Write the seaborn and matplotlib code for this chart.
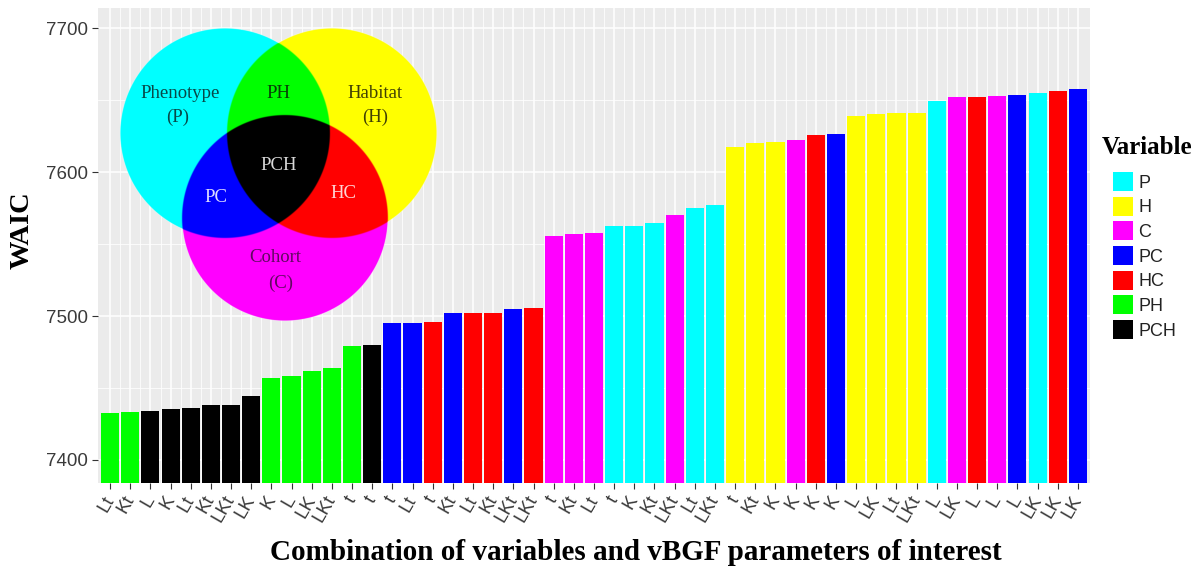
import numpy as np
import pandas as pd
import matplotlib
matplotlib.use("Agg")
import matplotlib.pyplot as plt
import seaborn as sns
from matplotlib.patches import Patch

# ---------------- data ----------------
params = ["Lt", "Kt", "L", "K", "Lt", "Kt", "LKt", "LK", "K", "L", "LK", "LKt", "t", "t",
          "t", "Lt", "t", "Kt", "Lt", "Kt", "LKt", "LKt", "t", "Kt", "Lt", "t", "K", "Kt",
          "LKt", "Lt", "LKt", "t", "Kt", "K", "K", "K", "K", "L", "LK", "Lt", "LKt", "L",
          "LK", "L", "L", "L", "LK", "LK", "LK"]
variables = ["PH", "PH", "PCH", "PCH", "PCH", "PCH", "PCH", "PCH", "PH", "PH", "PH", "PH", "PH", "PCH",
             "PC", "PC", "HC", "PC", "HC", "HC", "PC", "HC", "C", "C", "C", "P", "P", "P",
             "C", "P", "P", "H", "H", "H", "C", "HC", "PC", "H", "H", "H", "H", "P",
             "C", "HC", "C", "PC", "P", "HC", "PC"]
waic = [7432.6, 7433.0, 7434.0, 7435.2, 7435.9, 7438.2, 7438.4, 7444.4, 7457.0, 7458.4,
        7461.6, 7463.7, 7479.3, 7479.9, 7494.9, 7495.0, 7496.1, 7502.3, 7502.0, 7502.4,
        7504.6, 7505.3, 7555.6, 7556.9, 7557.4, 7562.5, 7562.6, 7564.8, 7570.1, 7574.8,
        7577.1, 7617.6, 7619.9, 7621.0, 7622.2, 7625.7, 7626.2, 7638.9, 7640.7, 7641.2,
        7641.3, 7649.5, 7652.3, 7652.4, 7652.8, 7653.5, 7654.6, 7656.5, 7657.4]
var_order = ["P", "H", "C", "PC", "HC", "PH", "PCH"]
var_colors = ["#00FFFF", "#FFFF00", "#FF00FF", "#0000FF", "#FF0000", "#00FF00", "#000000"]
y_ticks = [7400, 7500, 7600, 7700]
y_minor = [7450, 7550, 7650]

# ---------------- figure ----------------
W, H = 1203, 574
fig = plt.figure(figsize=(W / 100, H / 100), dpi=100)
fig.patch.set_facecolor("white")
ax = fig.add_axes([98 / W, 1 - 483 / H, (1090 - 98) / W, (483 - 8) / H])
ax.set_facecolor("#EBEBEB")

df = pd.DataFrame({"pos": np.arange(len(waic)), "WAIC": waic, "Variable": variables})
sns.barplot(data=df, x="pos", y="WAIC", hue="Variable", hue_order=var_order,
            palette=dict(zip(var_order, var_colors)), dodge=False, width=0.9,
            saturation=1, legend=False, ax=ax, linewidth=0, zorder=2)

n = len(waic)
ax.set_xlim(-0.6, n - 1 + 0.6)
ax.set_ylim(7384, 7714)
ax.set_yticks(y_ticks)
ax.set_yticks(y_minor, minor=True)
ax.set_xticks(np.arange(n))
ax.set_xticks(np.arange(n - 1) + 0.5, minor=True)
ax.set_xticklabels(params, rotation=60, ha="right", va="center", rotation_mode="anchor")
ax.set_axisbelow(True)
ax.grid(which="major", color="white", linewidth=1.1, zorder=0)
ax.grid(which="minor", color="white", linewidth=0.55, zorder=0)
for s in ax.spines.values():
    s.set_visible(False)
ax.tick_params(axis="both", which="major", length=4, width=0.8, color="#333333",
               labelcolor="#3A3A3A", labelsize=13.5)
ax.tick_params(axis="x", which="major", pad=6)
ax.tick_params(which="minor", length=0)
for lab in ax.get_yticklabels() + ax.get_xticklabels():
    lab.set_family(["Liberation Sans", "DejaVu Sans"])
ax.set_xlabel("")
ax.set_ylabel("")

fig.text(22 / W, 1 - 230 / H, "WAIC", rotation=90, ha="center", va="center",
         fontsize=20.5, fontweight="bold", family="Liberation Serif")
fig.text(636 / W, 1 - 553 / H, "Combination of variables and vBGF parameters of interest",
         ha="center", va="center", fontsize=21, fontweight="bold", family="Liberation Serif")

# ---------------- legend ----------------
fig.text(1102 / W, 1 - 148 / H, "Variable", ha="left", va="center",
         fontsize=18, fontweight="bold", family="Liberation Serif")
handles = [Patch(facecolor=c, edgecolor="none") for c in var_colors]
leg = fig.legend(handles, var_order, loc="upper left", bbox_to_anchor=(1113 / W, 1 - 172 / H),
                 frameon=False, handlelength=1.1, handleheight=1.25,
                 labelspacing=0.28, handletextpad=0.3, borderaxespad=0, borderpad=0,
                 prop={"family": "Liberation Sans", "size": 13})
for t in leg.get_texts():
    t.set_color("#222222")

# ---------------- Venn inset ----------------
vx0, vx1, vy0, vy1 = 100, 460, 15, 335
vax = fig.add_axes([vx0 / W, 1 - vy1 / H, (vx1 - vx0) / W, (vy1 - vy0) / H])
vax.set_xlim(vx0, vx1)
vax.set_ylim(vy1, vy0)
vax.axis("off")
vax.patch.set_alpha(0)
gx, gy = np.meshgrid(np.linspace(vx0, vx1, 3 * (vx1 - vx0)),
                     np.linspace(vy0, vy1, 3 * (vy1 - vy0)))


def member(cx, cy, r):
    d = np.sqrt((gx - cx) ** 2 + (gy - cy) ** 2)
    return np.clip((r - d) + 0.5, 0, 1)


mP = member(225, 133, 105)
mH = member(332, 133, 105)
mC = member(285, 218, 103)
rgba = np.zeros(gx.shape + (4,))
rgba[..., 0] = 1 - mP
rgba[..., 1] = 1 - mC
rgba[..., 2] = 1 - mH
rgba[..., 3] = np.maximum(np.maximum(mP, mH), mC)
vax.imshow(rgba, extent=(vx0, vx1, vy1, vy0), aspect="auto", interpolation="antialiased")

vfont = dict(family="Liberation Serif", fontsize=13.5, ha="center", va="center")
vax.text(180, 94, "Phenotype", color="#084848", **vfont)
vax.text(178, 117, "(P)", color="#084848", **vfont)
vax.text(278, 93, "PH", color="#074007", **vfont)
vax.text(375, 94, "Habitat", color="#404004", **vfont)
vax.text(375, 117, "(H)", color="#404004", **vfont)
vax.text(279, 165, "PCH", color="#D9D9D9", **vfont)
vax.text(216, 198, "PC", color="#DDDDFF", **vfont)
vax.text(343, 193, "HC", color="#FFD6D6", **vfont)
vax.text(275, 258, "Cohort", color="#600960", **vfont)
vax.text(281, 283, "(C)", color="#600960", **vfont)

fig.savefig("out.png", dpi=100)
